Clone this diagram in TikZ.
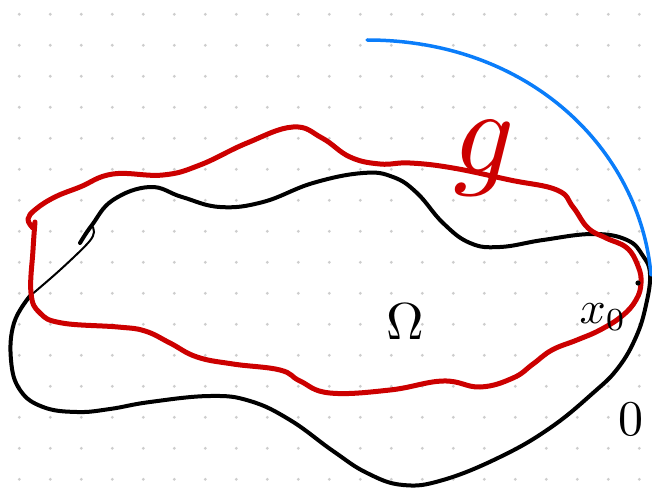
\documentclass[tikz,border=0pt]{standalone}
\definecolor{inkred}{RGB}{204,0,0}
\definecolor{inkblue}{RGB}{10,125,250}
\definecolor{dotgray}{RGB}{205,205,205}
\tikzset{
  domain line/.style={black, line width=4pt, line cap=round, line join=round},
  data line/.style={inkred, line width=5pt, line cap=round, line join=round},
  barrier line/.style={inkblue, line width=3.5pt, line cap=round},
  hand label/.style={inner sep=0pt, outer sep=0pt}
}
\begin{document}
\begin{tikzpicture}[x=1pt, y=-1pt]
	\useasboundingbox (0,0) rectangle (652,489);

	% dotted paper
	\foreach \i in {0,...,20} {
		\foreach \j in {0,...,15} {
			\fill[dotgray] (19.3+31*\i, 14.3+31*\j) circle (1.6);
		}
	}

	% boundary of Omega
	\draw[domain line] plot[smooth, tension=0.7] coordinates {
		(80,243) (92,225) (113,200) (150,187) (182,197) (220,207) (263,202)
		(313,183) (363,173) (393,177) (417,193) (443,223) (470,243) (500,247)
		(543,240) (593,234) (627,240) (643,256) (650,274) (646,305) (636,337)
		(618,368) (593,393) (550,428) (500,457) (443,480) (403,485) (367,473)
		(333,451) (290,420) (250,401) (210,396) (150,402) (110,409) (77,412)
		(43,407) (20,390) (11,360) (14,323) (30,296)};
	\draw[black, line width=2pt, line cap=round] plot[smooth, tension=0.6] coordinates {
		(30,296) (60,270) (88,243) (94,232) (92,226)};

	% the data g
	\draw[data line] plot[smooth, tension=0.7] coordinates {
		(33,228) (28,219) (36,209) (55,197) (80,187) (113,174) (163,175)
		(200,165) (247,143) (293,127) (322,138) (350,157) (380,164) (410,163)
		(453,168) (510,180) (557,190) (573,207) (588,228) (606,238) (627,248)
		(638,266) (641,283) (636,300) (622,316) (600,330) (577,340) (552,350)
		(533,364) (513,378) (480,387) (443,381) (390,390) (330,393) (300,381)
		(280,370) (233,364) (197,357) (170,343) (145,331) (118,327) (62,323)
		(40,313) (31,293) (33,250) (35,222)};

	% barrier at x0
	\coordinate (arcstart) at (367,40);
	\coordinate (arcend) at (651,275);
	\draw[barrier line] (arcstart) .. controls (530,40) and (640,150) .. (arcend);

	\fill[black] (638,283) circle (2.6);

	% labels
	\node[hand label, inkred, scale=12] (glabel) at (484,158) {$g$};
	\node[hand label, scale=5.2] (omega) at (405,322) {$\Omega$};
	\node[hand label, scale=4.6] (xzero) at (603,317) {$x_0$};
	\node[hand label, scale=5] (zero) at (631,419) {$0$};
\end{tikzpicture}
\end{document}
